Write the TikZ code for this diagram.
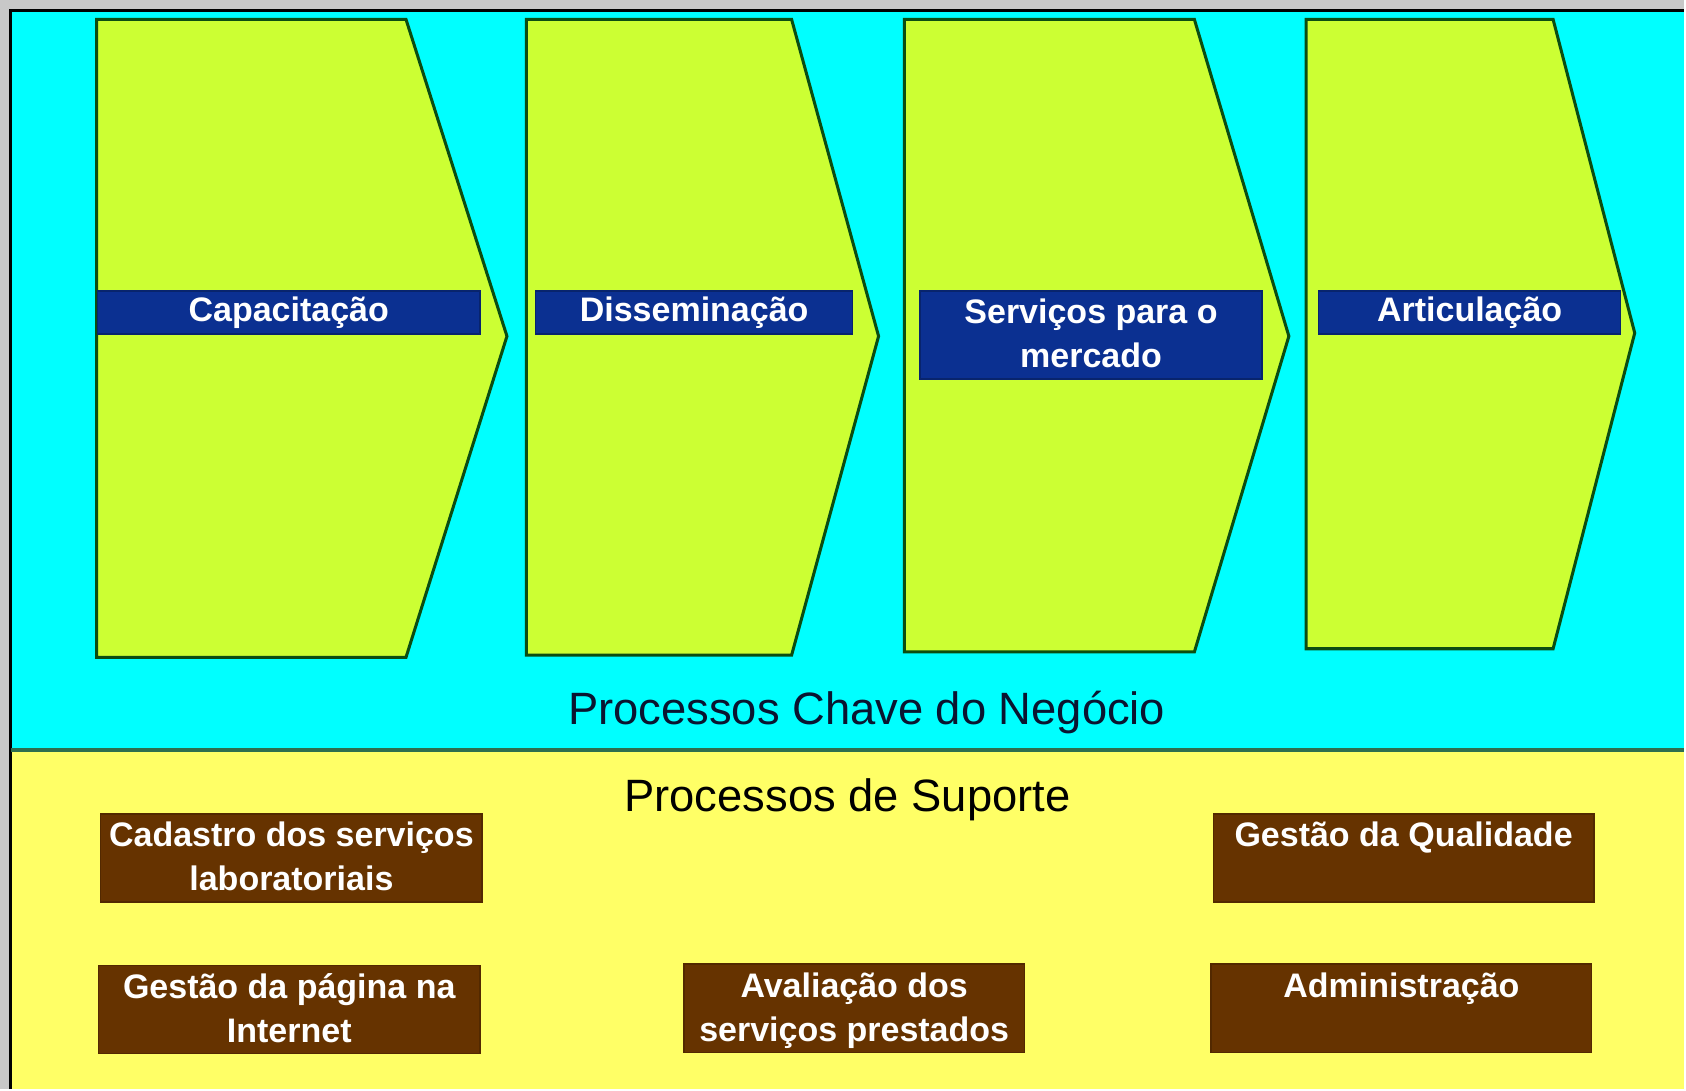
\documentclass[tikz,border=0pt]{standalone}
\usepackage{fontspec}
\setmainfont{Liberation Sans}
\definecolor{graybg}{HTML}{C8C8C8}
\definecolor{cyanbg}{HTML}{00FFFF}
\definecolor{yellowbg}{HTML}{FFFF66}
\definecolor{chev}{HTML}{CCFF33}
\definecolor{chevline}{HTML}{0B4D12}
\definecolor{barblue}{HTML}{0B3091}
\definecolor{brownbox}{HTML}{663300}
\definecolor{divline}{HTML}{2E6E4E}
\definecolor{navytext}{HTML}{0A1530}
\newcommand\lnstrut{\rule[-3.0pt]{0pt}{11.7pt}}
\begin{document}
\begin{tikzpicture}[x=0.01cm,y=-0.01cm,
  chevron/.style={fill=chev,draw=chevline,line width=0.8pt,line join=miter},
  bar/.style={fill=barblue,draw=barblue!75!black,line width=0.4pt,inner sep=0pt,anchor=north west,
    text=white,font=\fontsize{9}{11.7}\selectfont\bfseries,align=center},
  brownbar/.style={bar,fill=brownbox,draw=brownbox!80!black},
  title/.style={font=\fontsize{12}{14}\selectfont,inner sep=0pt}]
% backgrounds
\fill[graybg] (0,0) rectangle (1568,1014);
\fill[cyanbg] (10,10) rectangle (1568,698);
\fill[yellowbg] (10,698) rectangle (1568,1014);
\draw[black,line width=0.8pt] (10,1014) -- (10,10) -- (1568,10);
\draw[divline,line width=1pt] (10,698) -- (1568,698);
% chevrons
\draw[chevron] (90,18) -- (378,18) -- (472,313) -- (378,612) -- (90,612) -- cycle;
\draw[chevron] (490,18) -- (737,18) -- (818,313) -- (737,610) -- (490,610) -- cycle;
\draw[chevron] (842,18) -- (1112,18) -- (1200,313) -- (1112,607) -- (842,607) -- cycle;
\draw[chevron] (1216,18) -- (1446,18) -- (1522,310) -- (1446,604) -- (1216,604) -- cycle;
% label bars
\node[bar,minimum width=3.56cm,minimum height=0.40cm] (cap) at (90,270) {Capacitação};
\node[bar,minimum width=2.95cm,minimum height=0.40cm] (dis) at (498,270) {Disseminação};
\node[bar,minimum width=3.18cm,minimum height=0.81cm] (ser) at (856,270) {\lnstrut Serviços para o\\\lnstrut mercado};
\node[bar,minimum width=2.81cm,minimum height=0.40cm] (art) at (1227,270) {Articulação};
% titles
\node[title,text=navytext] (chave) at (807,663) {Processos Chave do Negócio};
\node[title,text=black] (suporte) at (789,745) {Processos de Suporte};
% support boxes
\node[brownbar,minimum width=3.55cm,minimum height=0.80cm] (cad) at (93,757) {\lnstrut Cadastro dos serviços\\\lnstrut laboratoriais};
\node[brownbar,minimum width=3.54cm,minimum height=0.81cm] (qual) at (1129,757) {\lnstrut Gestão da Qualidade\\\lnstrut};
\node[brownbar,minimum width=3.55cm,minimum height=0.80cm] (pag) at (91,898) {\lnstrut Gestão da página na\\\lnstrut Internet};
\node[brownbar,minimum width=3.17cm,minimum height=0.80cm] (aval) at (636,897) {\lnstrut Avaliação dos\\\lnstrut serviços prestados};
\node[brownbar,minimum width=3.54cm,minimum height=0.81cm] (adm) at (1127,897) {\lnstrut Administração\\\lnstrut};
\end{tikzpicture}
\end{document}
